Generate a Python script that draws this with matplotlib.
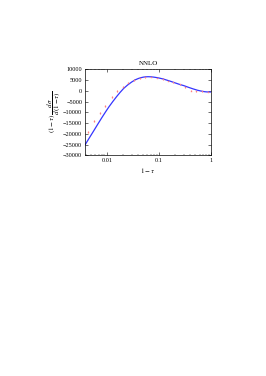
import matplotlib
matplotlib.use('Agg')
import matplotlib.pyplot as plt

plt.rcParams['font.family'] = 'Liberation Serif'
plt.rcParams['mathtext.fontset'] = 'stix'

# fitted curve
curve_x = [0.0038, 0.0045, 0.0055, 0.0067, 0.008, 0.0095, 0.011, 0.013, 0.0155, 0.018,
           0.021, 0.025, 0.03, 0.035, 0.04, 0.045, 0.05, 0.056, 0.062, 0.07,
           0.08, 0.09, 0.1, 0.12, 0.14, 0.17, 0.2, 0.25, 0.3, 0.37,
           0.45, 0.55, 0.65, 0.75, 0.85, 1.0]
curve_y = [-25200, -22300, -18900, -15500, -12500, -9700, -7400, -5000, -2600, -700,
           1100, 2700, 4100, 5100, 5700, 6100, 6350, 6500, 6550, 6500,
           6350, 6150, 5950, 5500, 5000, 4350, 3750, 2950, 2400, 1600,
           900, 250, -150, -420, -540, -560]

# data points with errors
pts_x = [0.0044, 0.0057, 0.0073, 0.0094, 0.0123, 0.0156, 0.0201, 0.026, 0.033, 0.043,
         0.055, 0.071, 0.091, 0.117, 0.15, 0.19, 0.25, 0.32, 0.41, 0.52, 0.67, 0.86]
pts_y = [-19000, -13900, -10300, -7000, -3000, -100, 1900, 3700, 5000, 6000,
         6400, 6500, 6100, 5500, 4700, 3900, 3000, 1600, 50, -230, -300, -450]
pts_err = [500, 500, 450, 400, 400, 350, 350, 300, 300, 300,
           300, 300, 300, 300, 300, 300, 300, 300, 300, 300, 300, 300]

fig = plt.figure(figsize=(2.66, 3.76), dpi=100)
ax = fig.add_axes([0.3195, 0.587, 0.474, 0.2287])

ax.errorbar(pts_x, pts_y, yerr=pts_err, fmt='s', ms=1.0, mew=0, color='#ff8080',
            ecolor='#ff8080', elinewidth=0.6, capsize=0)
ax.plot(curve_x, curve_y, color='#3535ff', lw=0.9)

ax.set_xscale('log')
ax.set_xlim(0.0038, 1)
ax.set_ylim(-30000, 10000)
ax.set_yticks(range(-30000, 10001, 5000))
ax.set_xticks([0.01, 0.1, 1])
ax.set_xticklabels(['0.01', '0.1', '1'])
ax.tick_params(labelsize=4.5, width=0.4, length=2, direction='in', top=True, right=True, pad=2)
ax.tick_params(which='minor', width=0.3, length=1, direction='in', top=True, right=True)
for s in ax.spines.values():
    s.set_linewidth(0.5)

ax.set_title('NNLO', fontsize=5, pad=3)
ax.set_xlabel(r'$1-\tau$', fontsize=5, labelpad=2)
ax.set_ylabel(r'$(1-\tau)\,\dfrac{d\sigma}{d(1-\tau)}$', fontsize=5, labelpad=1)

plt.savefig('out.png', dpi=100)
